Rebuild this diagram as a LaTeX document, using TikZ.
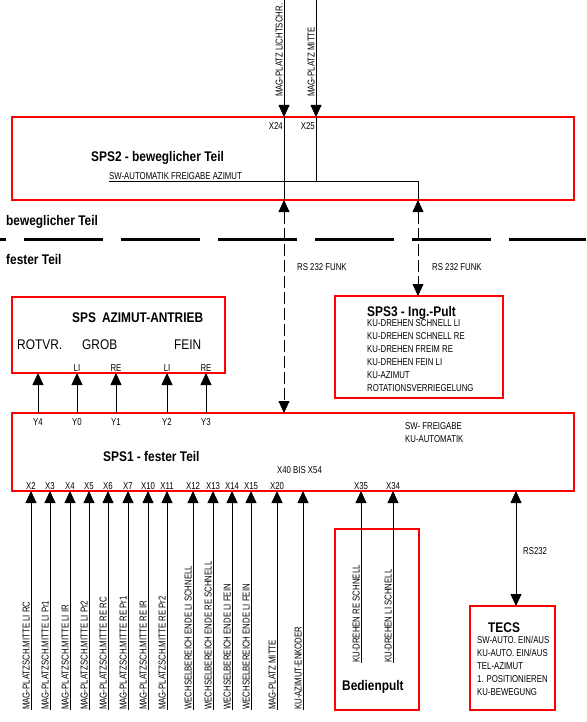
\documentclass[tikz,border=0pt]{standalone}
\usepackage{fontspec}
\setmainfont{Liberation Sans}
\newfontfamily\narrowsf[FakeStretch=0.85]{Liberation Sans}
\newfontfamily\tinysf[FakeStretch=0.78]{Liberation Sans}
\usetikzlibrary{arrows.meta}

\tikzset{
  box/.style={draw=red, line width=2.4pt, inner sep=0pt, outer sep=0pt, anchor=north west},
  sig/.style={font=\tinysf\fontsize{10}{13}\selectfont, inner sep=0pt},
  ttl/.style={font=\narrowsf\bfseries\fontsize{14}{16}\selectfont, inner sep=0pt},
  big/.style={font=\narrowsf\fontsize{14}{16}\selectfont, inner sep=0pt},
  wire/.style={line width=0.8pt},
  arr/.style={wire, -{Triangle[length=12pt,width=11pt]}},
  dbl/.style={wire, {Triangle[length=12pt,width=11pt]}-{Triangle[length=12pt,width=11pt]}},
  funk/.style={dbl, dash pattern=on 12pt off 4pt},
}

\begin{document}
\begin{tikzpicture}[x=1pt,y=-1pt]
\useasboundingbox (0,0) rectangle (586,722);

\node[box, minimum width=562pt, minimum height=83pt] (sps2) at (12,117) {};
\node[box, minimum width=213pt, minimum height=76pt] (spsa) at (12,297) {};
\node[box, minimum width=168pt, minimum height=102pt] (sps3) at (335,296) {};
\node[box, minimum width=562pt, minimum height=78pt] (sps1) at (12,413) {};
\node[box, minimum width=84pt, minimum height=181pt] (bedien) at (335,529) {};
\node[box, minimum width=85pt, minimum height=104pt] (tecs) at (470,606) {};

\coordinate (m24) at (284,0);
\coordinate (m25) at (316,0);
\coordinate (sw) at (109,181);
\coordinate (swr) at (418,181);
\draw[arr] (m24) -- (m24 |- sps2.north);
\draw[arr] (m25) -- (m25 |- sps2.north);
\draw[wire] (m24 |- sps2.north) -- (m24 |- sps2.south);
\draw[wire] (m25 |- sps2.north) -- (m25 |- sw);
\draw[wire] (sw) -- (swr) -- (swr |- sps2.south);
\node[sig, rotate=90, anchor=south west] (lichtschr) at (283,97) {MAG-PLATZ LICHTSCHR.};
\node[sig, rotate=90, anchor=south west] (platzmitte) at (315,97) {MAG-PLATZ MITTE};
\node[sig, anchor=base east] (x24) at (283,130) {X24};
\node[sig, anchor=base east] (x25) at (315,130) {X25};
\node[ttl, anchor=base west] (sps2t) at (91,161) {SPS2 - beweglicher Teil};
\node[sig, anchor=base west] (swauto) at (109,179) {SW-AUTOMATIK FREIGABE AZIMUT};

\coordinate (sepl) at (0,239);
\coordinate (sepr) at (586,239);
\draw[line width=3pt, dash pattern=on 79pt off 18pt, dash phase=73pt] (sepl) -- (sepr);
\node[ttl, anchor=base west] (beweg) at (6,225) {beweglicher Teil};
\node[ttl, anchor=base west] (fest) at (6,264) {fester Teil};

\draw[funk] (m24 |- sps2.south) -- (m24 |- sps1.north);
\draw[funk] (swr |- sps2.south) -- (swr |- sps3.north);
\node[sig, anchor=base west] (funk1) at (297,270) {RS 232 FUNK};
\node[sig, anchor=base west] (funk2) at (432,270) {RS 232 FUNK};

\node[ttl, anchor=base west] (spsat) at (72,322) {SPS\hspace{6pt}AZIMUT-ANTRIEB};
\node[big, anchor=base west] (rotvr) at (17,349) {ROTVR.};
\node[big, anchor=base west] (grob) at (82,349) {GROB};
\node[big, anchor=base west] (fein) at (174,349) {FEIN};
\foreach \x/\y in {38/Y4, 77/Y0, 116/Y1, 167/Y2, 206/Y3} {
  \coordinate (c\y) at (\x,0);
  \draw[arr] (c\y |- sps1.north) -- (c\y |- spsa.south);
  \node[sig, anchor=base] (l\y) at (\x,425) {\y};
}
\foreach \x/\n/\z in {77/0/LI, 116/1/RE, 167/2/LI, 206/3/RE}
  \node[sig, anchor=base] (dir\n) at (\x,371) {\z};

\node[ttl, anchor=base west] (sps3t) at (367,316) {SPS3 - Ing.-Pult};
\node[sig, anchor=north west, align=left] (sps3l) at (367,319.5) {KU-DREHEN SCHNELL LI\\KU-DREHEN SCHNELL RE\\KU-DREHEN FREIM RE\\KU-DREHEN FEIN LI\\KU-AZIMUT\\ROTATIONSVERRIEGELUNG};

\node[ttl, anchor=base west] (sps1t) at (103,461) {SPS1 - fester Teil};
\node[sig, anchor=north west, align=left] (swfrei) at (405,422.5) {SW- FREIGABE\\KU-AUTOMATIK};
\node[sig, anchor=base west] (x40) at (277,473) {X40 BIS X54};

\foreach \x/\t/\txt in {31/X2/{MAG-PLATZSCH.MITTE LI RC}, 50/X3/{MAG-PLATZSCH.MITTE LI Pr1},
    70/X4/{MAG-PLATZSCH.MITTE LI IR}, 89/X5/{MAG-PLATZSCH.MITTE LI Pr2},
    108/X6/{MAG-PLATZSCH.MITTE RE RC}, 128/X7/{MAG-PLATZSCH.MITTE RE Pr1},
    148/X10/{MAG-PLATZSCH.MITTE RE IR}, 167/X11/{MAG-PLATZSCH.MITTE RE Pr2},
    193/X12/{WECHSELBEREICH ENDE LI SCHNELL}, 213/X13/{WECHSELBEREICH ENDE RE SCHNELL},
    232/X14/{WECHSELBEREICH ENDE LI FEIN}, 251/X15/{WECHSELBEREICH ENDE LI FEIN},
    277/X20/{MAG-PLATZ MITTE}} {
  \coordinate (e\t) at (\x,710);
  \draw[arr] (e\t) -- (e\t |- sps1.south);
  \node[sig, anchor=base] (t\t) at (\x,489) {\t};
  \node[sig, rotate=90, anchor=south west] (n\t) at (\x-1,710) {\txt};
}
\coordinate (enc) at (303,710);
\draw[arr] (enc) -- (enc |- sps1.south);
\node[sig, rotate=90, anchor=south west] (nenc) at (302,710) {KU-AZIMUT-ENKODER};

\foreach \x/\t/\txt in {361/X35/{KU-DREHEN RE SCHNELL}, 393/X34/{KU-DREHEN LI SCHNELL}} {
  \coordinate (e\t) at (\x,663);
  \draw[arr] (e\t) -- (e\t |- sps1.south);
  \node[sig, anchor=base] (t\t) at (\x,489) {\t};
  \node[sig, rotate=90, anchor=south west] (n\t) at (\x-1,663) {\txt};
}
\node[ttl, anchor=base west] (bedient) at (342,690) {Bedienpult};

\coordinate (rs) at (516,0);
\draw[dbl] (rs |- sps1.south) -- (rs |- tecs.north);
\node[sig, anchor=base west] (rs232) at (523,554) {RS232};
\node[ttl, anchor=base west] (tecst) at (488,632) {TECS};
\node[sig, anchor=north west, align=left] (tecsl) at (477,636.5) {SW-AUTO. EIN/AUS\\KU-AUTO. EIN/AUS\\TEL-AZIMUT\\1. POSITIONIEREN\\KU-BEWEGUNG};
\end{tikzpicture}
\end{document}
